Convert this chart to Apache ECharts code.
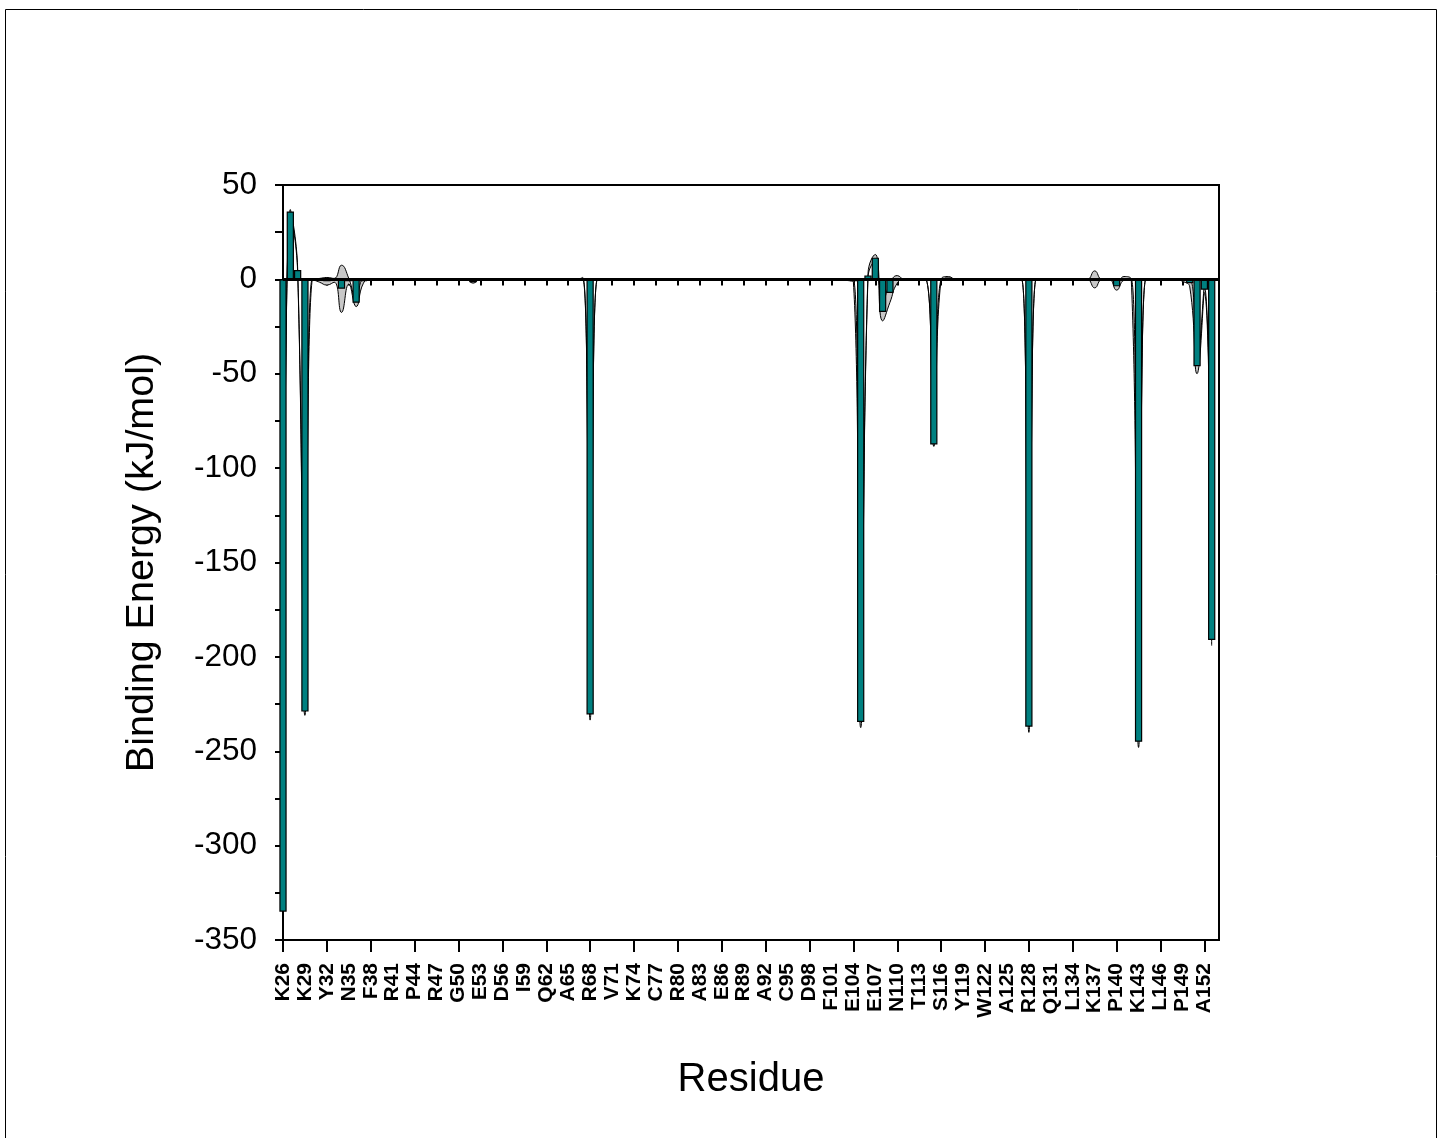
<!DOCTYPE html>
<html>
<head>
<meta charset="utf-8">
<script src="https://cdn.jsdelivr.net/npm/echarts@6/dist/echarts.min.js"></script>
<style>
  html, body { margin: 0; padding: 0; background: #fff; }
  #chart { width: 1443px; height: 1138px; }
</style>
</head>
<body>
<div id="chart"></div>
<script>
// Per-residue binding energy decomposition (kJ/mol), residues 26..153
const firstResidue = 26;
const axisEndResidue = 154;

const tickLabels = ['K26', 'K29', 'Y32', 'N35', 'F38', 'R41', 'P44', 'R47', 'G50', 'E53',
  'D56', 'I59', 'Q62', 'A65', 'R68', 'V71', 'K74', 'C77', 'R80', 'A83',
  'E86', 'R89', 'A92', 'C95', 'D98', 'F101', 'E104', 'E107', 'N110', 'T113',
  'S116', 'Y119', 'W122', 'A125', 'R128', 'Q131', 'L134', 'K137', 'P140', 'K143',
  'L146', 'P149', 'A152'];

// mean energy, one value per residue starting at 26
const energy = [
  -335, 36, 5, -229, 0, -0.5, -1, -0.5, -5, -1,          // 26-35
  -12.4, -1, 0, 0, 0, 0, 0, 0, 0, 0,                      // 36-45
  0, 0, 0, 0, 0, 0, -1.5, 0, 0, 0,                        // 46-55
  0, 0, -0.3, -0.3, -0.3, 0, 0, 0, 0, 0,                  // 56-65
  0, 0.5, -230.5, 0, 0, 0, 0, 0, 0, 0,                    // 66-75
  0, 0, 0, 0, 0, 0, 0, 0, 0, 0,                           // 76-85
  0, 0, 0, 0, 0, 0, 0, 0, 0, 0,                           // 86-95
  0, 0, 0, 0, 0, 0, 0, -0.5, -1, -234.5,                  // 96-105
  2.1, 11.5, -17.3, -7.2, 0, 0, 0, 0, -0.5, -87.5,        // 106-115
  0, 1, 0, 0, 0, -0.5, 0, -0.5, 0, 0,                     // 116-125
  0, 0, -237, 0, 0, 0, 0, 0, 0, 0,                        // 126-135
  0, 0, 0, 0, -3.7, 0.5, 0, -245, 0, 0,                   // 136-145
  0, 0, 0, -0.5, -2, -46, -5.5, -191                      // 146-153
];

// standard deviation of the energy, same residue order
const energySD = [
  2, 1, 1, 2, 0, 1, 2, 1, 12.5, 1.5,                      // 26-35
  2, 1, 0, 0, 0, 0, 0, 0, 0, 0,                           // 36-45
  0, 0, 0, 0, 0, 0, 0.5, 0, 0, 0,                         // 46-55
  0, 0, 0, 0, 0, 0, 0, 0, 0, 0,                           // 56-65
  0, 0.5, 3, 0, 0, 0, 0, 0, 0, 0,                         // 66-75
  0, 0, 0, 0, 0, 0, 0, 0, 0, 0,                           // 76-85
  0, 0, 0, 0, 0, 0, 0, 0, 0, 0,                           // 86-95
  0, 0, 0, 0, 0, 0, 0, 0, 0.5, 3,                         // 96-105
  1, 1.7, 4.7, 5, 2, 0, 0, 0, 0, 1,                       // 106-115
  0, 0.5, 0, 0, 0, 0, 0, 0, 0, 0,                         // 116-125
  0, 0, 3, 0, 0, 0, 0, 0, 0, 0,                           // 126-135
  0, 4.5, 0, 0, 2, 1, 0, 3, 0, 0,                         // 136-145
  0, 0, 0, 0.5, 2, 4, 1.5, 3                              // 146-153
];

const residues = [];
for (let r = firstResidue; r <= axisEndResidue; r++) residues.push(String(r));

const lowerBound = energy.map((v, i) => v - energySD[i]);
const bandWidth = energySD.map(s => 2 * s);

const FONT = 'Liberation Sans, Arial, sans-serif';

const chart = echarts.init(document.getElementById('chart'), null, { renderer: 'canvas' });

chart.setOption({
  animation: false,
  backgroundColor: '#fff',
  graphic: [{
    type: 'rect',
    silent: true,
    shape: { x: 5.5, y: 9.5, width: 1431, height: 1140 },
    style: { fill: 'none', stroke: '#000', lineWidth: 1 }
  }],
  grid: {
    left: 283, top: 185, width: 936, height: 755,
    show: true, borderColor: '#000', borderWidth: 2, backgroundColor: 'transparent'
  },
  xAxis: [{
    type: 'category',
    data: residues,
    boundaryGap: false,
    position: 'bottom',
    name: 'Residue',
    nameLocation: 'middle',
    nameGap: 120,
    nameTextStyle: { fontSize: 40, color: '#000', fontFamily: FONT },
    axisLine: { show: true, lineStyle: { color: '#000', width: 2 } },
    axisTick: {
      show: true, inside: false, length: 6,
      interval: (i) => i % 3 === 0,
      lineStyle: { color: '#000', width: 2 }
    },
    axisLabel: {
      show: true, rotate: 90, margin: 23,
      interval: (i) => i % 3 === 0,
      fontSize: 21, fontWeight: 'bold', color: '#000', fontFamily: FONT,
      formatter: (v) => {
        const k = (Number(v) - firstResidue) / 3;
        return Number.isInteger(k) && tickLabels[k] ? tickLabels[k] : '';
      }
    },
    splitLine: { show: false }
  }, {
    // longer ticks every sixth residue
    type: 'category',
    data: residues,
    boundaryGap: false,
    position: 'bottom',
    axisLine: { show: false },
    axisTick: {
      show: true, inside: false, length: 12,
      interval: (i) => i % 6 === 0,
      lineStyle: { color: '#000', width: 2 }
    },
    axisLabel: { show: false },
    splitLine: { show: false }
  }],
  yAxis: {
    type: 'value',
    min: -350, max: 50, interval: 50,
    name: 'Binding Energy (kJ/mol)',
    nameLocation: 'middle',
    nameGap: 121,
    nameTextStyle: { fontSize: 39.5, color: '#000', fontFamily: FONT },
    axisLine: { show: true, lineStyle: { color: '#000', width: 2 } },
    axisTick: { show: true, inside: false, length: 8, lineStyle: { color: '#000', width: 2 } },
    minorTick: { show: true, splitNumber: 2, length: 8, lineStyle: { color: '#000', width: 2 } },
    axisLabel: { fontSize: 31.5, color: '#000', fontFamily: FONT, margin: 26 },
    splitLine: { show: false },
    minorSplitLine: { show: false }
  },
  series: [{
    name: 'lower',
    type: 'line',
    data: lowerBound,
    stack: 'sd',
    stackStrategy: 'all',
    smooth: true,
    symbol: 'none',
    z: 3,
    lineStyle: { color: '#000', width: 1 }
  }, {
    name: 'band',
    type: 'line',
    data: bandWidth,
    stack: 'sd',
    stackStrategy: 'all',
    smooth: true,
    symbol: 'none',
    z: 2,
    lineStyle: { color: '#000', width: 1 },
    areaStyle: { color: '#c8c8c8', opacity: 1 }
  }, {
    name: 'energy',
    type: 'bar',
    data: energy,
    barWidth: 7.3,
    z: 4,
    itemStyle: { color: '#008080', borderColor: '#000', borderWidth: 1.2 },
    markLine: {
      silent: true,
      symbol: ['none', 'none'],
      label: { show: false },
      lineStyle: { color: '#000', width: 3, type: 'solid' },
      data: [{ yAxis: 0 }]
    }
  }]
});
</script>
</body>
</html>
